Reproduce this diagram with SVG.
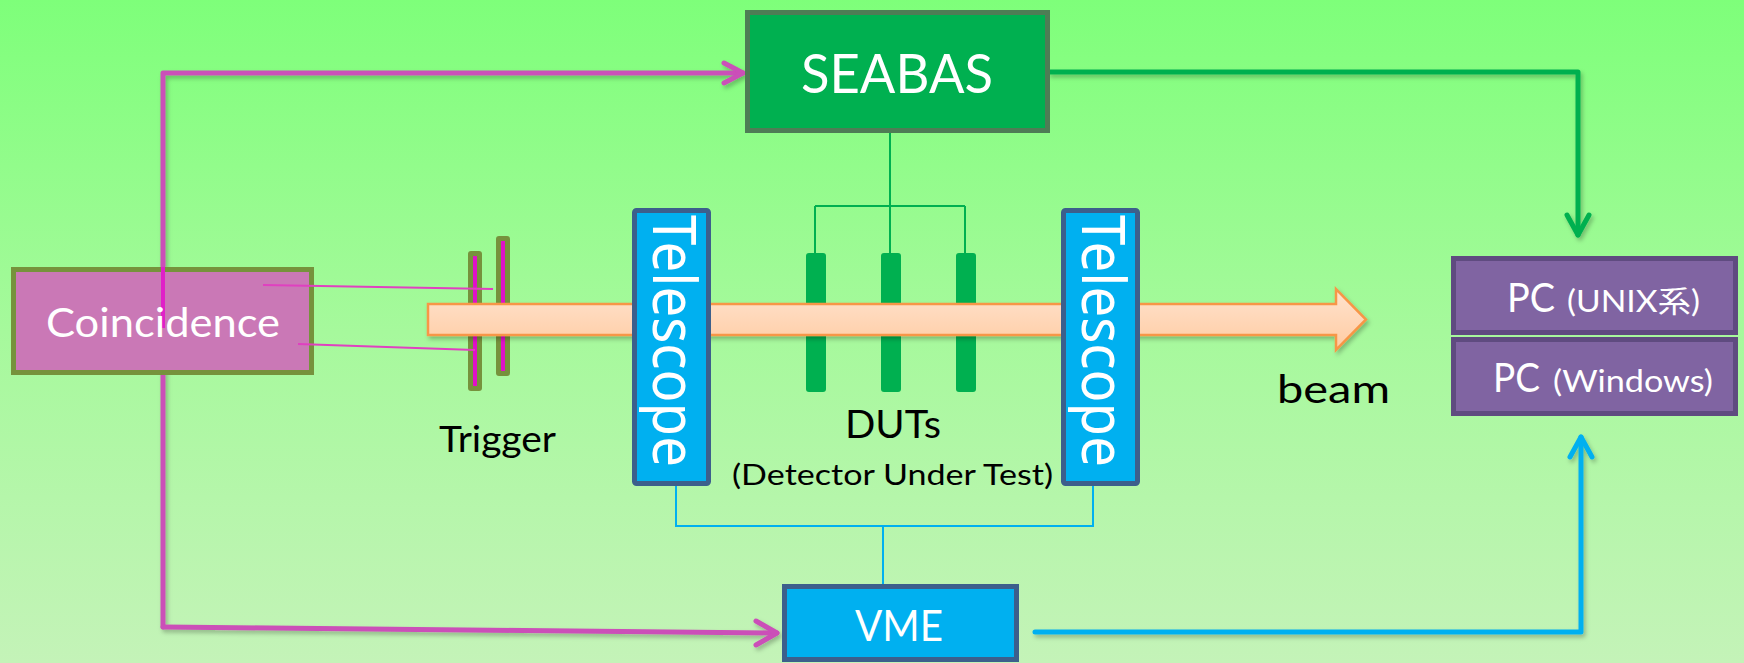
<svg xmlns="http://www.w3.org/2000/svg" width="1744" height="663" viewBox="0 0 1744 663">
  <defs>
    <linearGradient id="bg" x1="0" y1="0" x2="0" y2="1">
      <stop offset="0" stop-color="#7EFF7A"/>
      <stop offset="0.5" stop-color="#A6F99C"/>
      <stop offset="1" stop-color="#C4F3B8"/>
    </linearGradient>
    <linearGradient id="beamfill" x1="0" y1="0" x2="0" y2="1">
      <stop offset="0" stop-color="#FFE3CE"/>
      <stop offset="1" stop-color="#FFCBA2"/>
    </linearGradient>
    <filter id="sh" x="-5%" y="-20%" width="110%" height="140%">
      <feDropShadow dx="2" dy="3" stdDeviation="2" flood-color="#000" flood-opacity="0.25"/>
    </filter>
    <style>
      .lbl { font-family: Lato, "Open Sans", "Liberation Sans", sans-serif; fill: #000; }
      .wht { font-family: Lato, "Open Sans", "Liberation Sans", "Noto Sans CJK JP", sans-serif; fill: #fff; }
      .tel { font-family: "Noto Sans", "DejaVu Sans", sans-serif; fill: #fff; font-size: 60px; }
      .blueBox { fill: #00B0F0; stroke: #3C5F8C; stroke-width: 5; }
      .pcBox { fill: #8064A2; stroke: #5F4B80; stroke-width: 5; }
      .mag { fill: none; stroke: #CB4FB8; stroke-width: 5; stroke-linecap: round; stroke-linejoin: round; }
      .grn { fill: none; stroke: #00B050; stroke-width: 5; stroke-linecap: round; stroke-linejoin: round; }
      .blu { fill: none; stroke: #00B0F0; stroke-width: 5; stroke-linecap: round; stroke-linejoin: round; }
      .thinG { fill: none; stroke: #00B050; stroke-width: 2; }
      .thinB { fill: none; stroke: #00B0F0; stroke-width: 2; }
      .thinM { fill: none; stroke: #E040C0; stroke-width: 2; }
      .dut { fill: #00B050; }
      .plate { fill: #76923C; }
      .plateLine { stroke: #E010C8; stroke-width: 4; }
    </style>
  </defs>

  <rect x="0" y="0" width="1744" height="663" fill="url(#bg)"/>

  <!-- connectors -->
  <g id="connectors">
    <g filter="url(#sh)">
      <path class="mag" d="M163,627 L163,73 L743,73"/>
      <path class="mag" d="M724,63 L743,73 L724,83"/>
      <path class="mag" d="M163,627 L777,633"/>
      <path class="mag" d="M756,621 L777,633 L756,645"/>
      <path class="grn" d="M1050,72 L1578,72 L1578,235"/>
      <path class="grn" d="M1567,215 L1578,235 L1589,215"/>
      <path class="blu" d="M1035,632 L1581,632 L1581,437"/>
      <path class="blu" d="M1570,457 L1581,437 L1592,457"/>
    </g>
    <path class="thinG" d="M890,133 V206 M815,206 H965 M815,206 V254 M890,206 V254 M965,206 V254"/>
    <path class="thinB" d="M676,486 V526 H1093 V486 M883,526 V584"/>
  </g>

  <!-- Coincidence -->
  <g id="coincidence">
    <rect x="13.5" y="269.5" width="298" height="103" fill="#CA78B6" stroke="#76923C" stroke-width="5"/>
    <line x1="163" y1="267" x2="163" y2="328" stroke="#E020C8" stroke-width="4"/>
    <text class="wht" x="46" y="337" font-size="40" textLength="234" lengthAdjust="spacingAndGlyphs">Coincidence</text>
  </g>

  <!-- Trigger -->
  <g id="trigger">
    <rect class="plate" x="468" y="251" width="14" height="140" rx="3"/>
    <line class="plateLine" x1="475" y1="256" x2="475" y2="386"/>
    <rect class="plate" x="496" y="236" width="14" height="140" rx="3"/>
    <line class="plateLine" x1="503" y1="241" x2="503" y2="371"/>
    <path class="thinM" d="M263,285 L493,289 M298,344 L475,350"/>
    <text class="lbl" x="439" y="452" font-size="36" textLength="117" lengthAdjust="spacingAndGlyphs">Trigger</text>
  </g>

  <!-- DUTs -->
  <g id="duts">
    <rect class="dut" x="806" y="253" width="20" height="139" rx="3"/>
    <rect class="dut" x="881" y="253" width="20" height="139" rx="3"/>
    <rect class="dut" x="956" y="253" width="20" height="139" rx="3"/>
    <text class="lbl" x="845" y="438" font-size="38" textLength="96" lengthAdjust="spacingAndGlyphs">DUTs</text>
    <text class="lbl" x="732" y="485" font-size="29" textLength="321" lengthAdjust="spacingAndGlyphs">(Detector Under Test)</text>
  </g>

  <!-- beam -->
  <g id="beam">
    <polygon points="428,304 1336,304 1336,289 1366,319.5 1336,350 1336,335 428,335" fill="url(#beamfill)" stroke="#F79646" stroke-width="2.5" stroke-linejoin="miter" filter="url(#sh)"/>
    <text class="lbl" x="1277" y="403" font-size="38" textLength="113" lengthAdjust="spacingAndGlyphs">beam</text>
  </g>

  <!-- Telescopes -->
  <g id="telescope1">
    <rect class="blueBox" x="634.5" y="210.5" width="74" height="273" rx="2"/>
    <text class="tel" transform="translate(653,215) rotate(90)" textLength="252" lengthAdjust="spacingAndGlyphs">Telescope</text>
  </g>
  <g id="telescope2">
    <rect class="blueBox" x="1063.5" y="210.5" width="74" height="273" rx="2"/>
    <text class="tel" transform="translate(1082,215) rotate(90)" textLength="252" lengthAdjust="spacingAndGlyphs">Telescope</text>
  </g>

  <!-- SEABAS -->
  <g id="seabas">
    <rect x="747.5" y="12.5" width="300" height="118" fill="#00B050" stroke="#4E7D55" stroke-width="5"/>
    <text class="wht" x="801" y="93" font-size="54" textLength="192" lengthAdjust="spacingAndGlyphs">SEABAS</text>
  </g>

  <!-- VME -->
  <g id="vme">
    <rect class="blueBox" x="784.5" y="586.5" width="232" height="73"/>
    <text class="wht" x="855" y="641" font-size="42" textLength="88" lengthAdjust="spacingAndGlyphs">VME</text>
  </g>

  <!-- PCs -->
  <g id="pc-unix">
    <rect class="pcBox" x="1453.5" y="258.5" width="282" height="74"/>
    <text class="wht" y="312"><tspan x="1507" font-size="40" textLength="48" lengthAdjust="spacingAndGlyphs">PC</tspan><tspan x="1567" font-size="30" textLength="133" lengthAdjust="spacingAndGlyphs">(UNIX系)</tspan></text>
  </g>
  <g id="pc-windows">
    <rect class="pcBox" x="1453.5" y="339.5" width="282" height="74"/>
    <text class="wht" y="392"><tspan x="1493" font-size="40" textLength="47" lengthAdjust="spacingAndGlyphs">PC</tspan><tspan x="1553" font-size="30" textLength="160" lengthAdjust="spacingAndGlyphs">(Windows)</tspan></text>
  </g>
</svg>
